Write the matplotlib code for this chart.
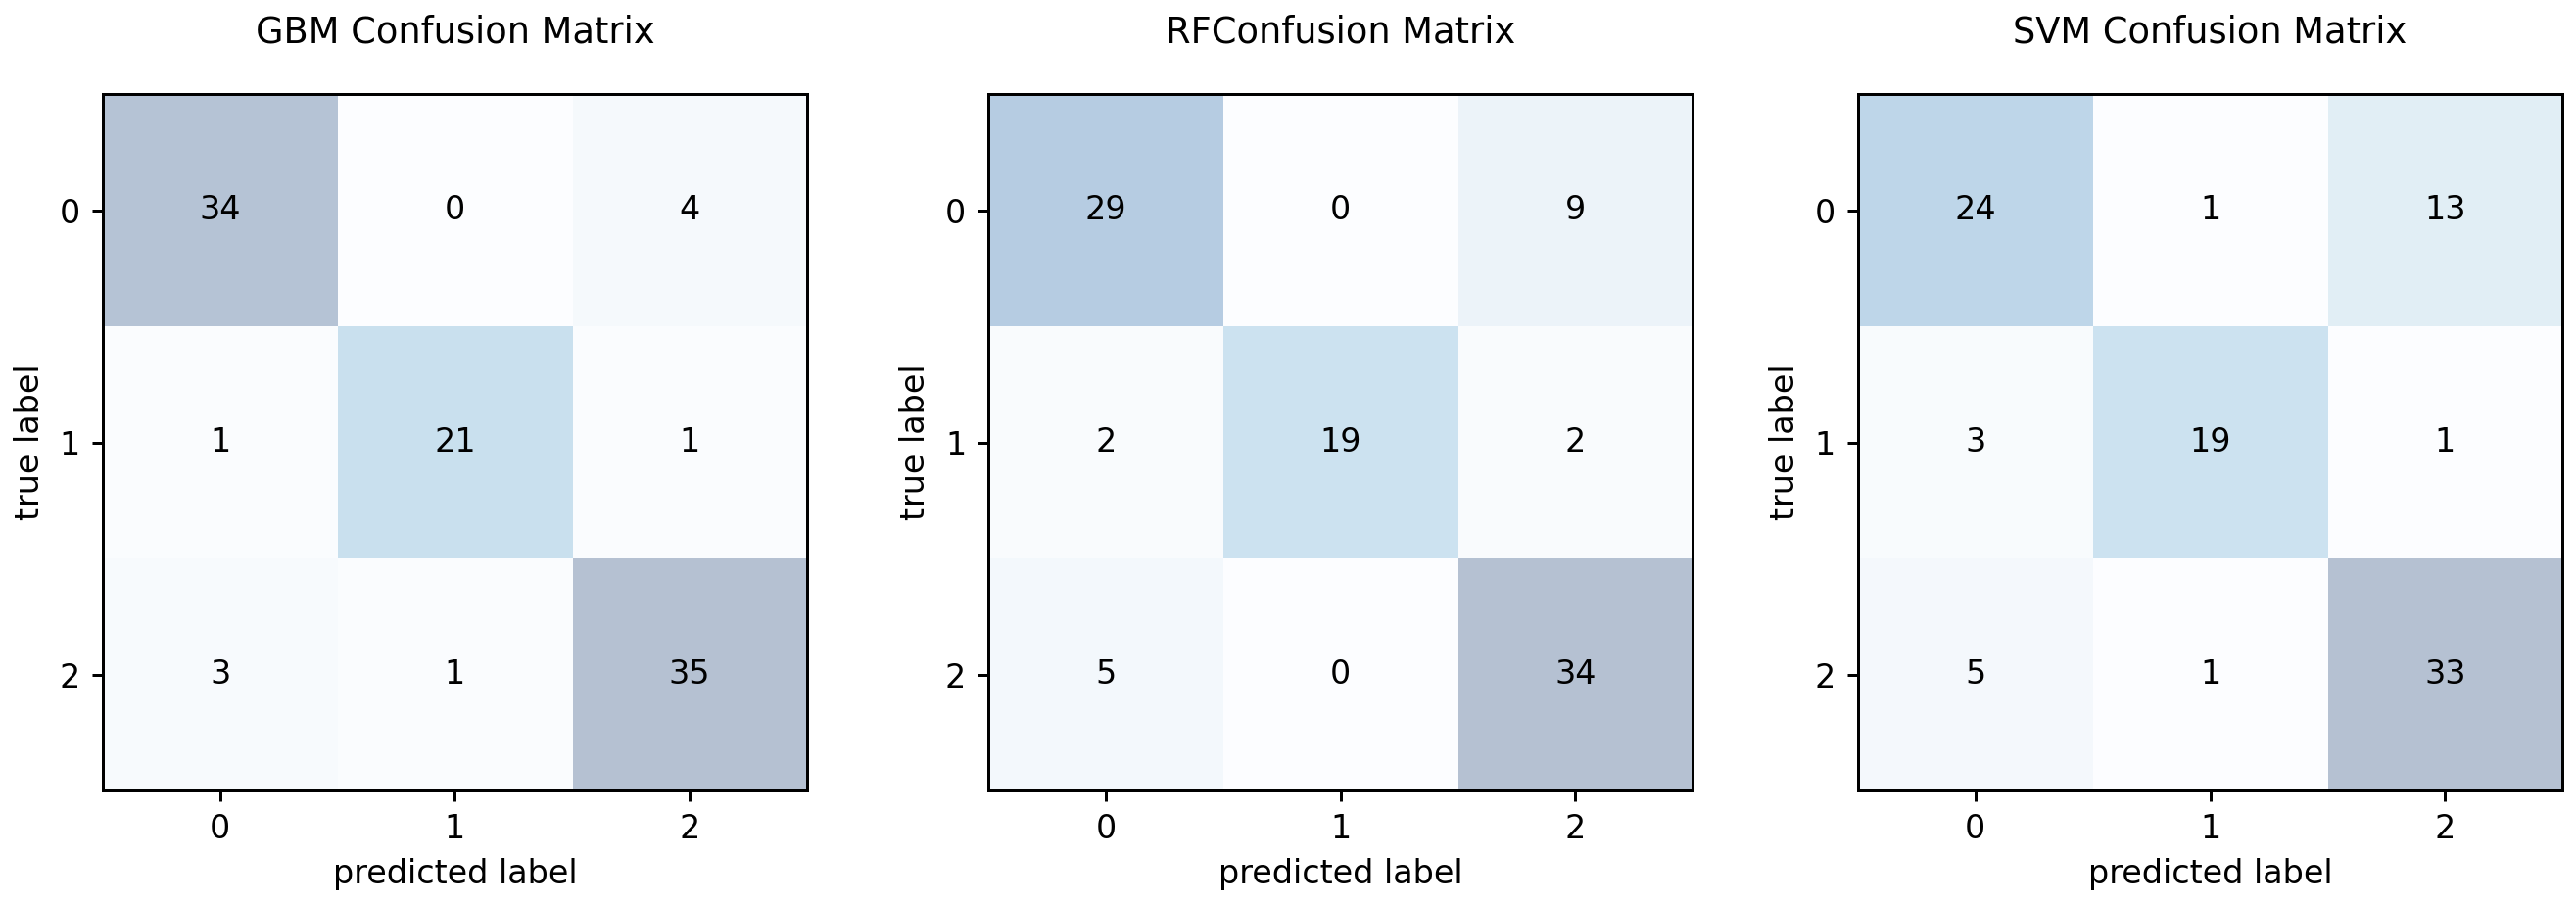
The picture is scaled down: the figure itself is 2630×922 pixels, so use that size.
import numpy as np
import matplotlib
matplotlib.use("Agg")
import matplotlib.pyplot as plt

# confusion matrices
titles = ["GBM Confusion Matrix", "RFConfusion Matrix", "SVM Confusion Matrix"]
gbm_cm = [[34, 0, 4],
          [1, 21, 1],
          [3, 1, 35]]
rf_cm = [[29, 0, 9],
         [2, 19, 2],
         [5, 0, 34]]
svm_cm = [[24, 1, 13],
          [3, 19, 1],
          [5, 1, 33]]
class_labels = [0, 1, 2]

S = 2.4  # scale factor for fonts / lines
plt.rcParams.update({
    "font.size": 10 * S,
    "axes.linewidth": 0.9 * S,
    "xtick.major.size": 3.4 * S,
    "ytick.major.size": 3.4 * S,
    "xtick.major.width": 0.9 * S,
    "ytick.major.width": 0.9 * S,
    "xtick.major.pad": 3.5 * S,
    "ytick.major.pad": 3.5 * S,
    "axes.labelpad": 4 * S,
})

fig = plt.figure(figsize=(26.3, 9.22), dpi=100)
lefts = [0.0399, 0.3837, 0.7213]

for left, title, cm in zip(lefts, titles, [gbm_cm, rf_cm, svm_cm]):
    ax = fig.add_axes([left, 0.1247, 0.2734, 0.7711])
    cm = np.array(cm)
    ax.imshow(cm, cmap=plt.cm.Blues, alpha=0.3, aspect="auto")
    for i in range(cm.shape[0]):
        for j in range(cm.shape[1]):
            ax.text(j, i, cm[i, j], va="center", ha="center", fontsize=10 * S)
    ax.set_xticks(range(len(class_labels)))
    ax.set_yticks(range(len(class_labels)))
    ax.set_xticklabels(class_labels)
    ax.set_yticklabels(class_labels)
    ax.set_xlabel("predicted label")
    ax.set_ylabel("true label")
    ax.set_title(title, fontsize=26.5, pad=38)

fig.savefig("out.png", dpi=100)
